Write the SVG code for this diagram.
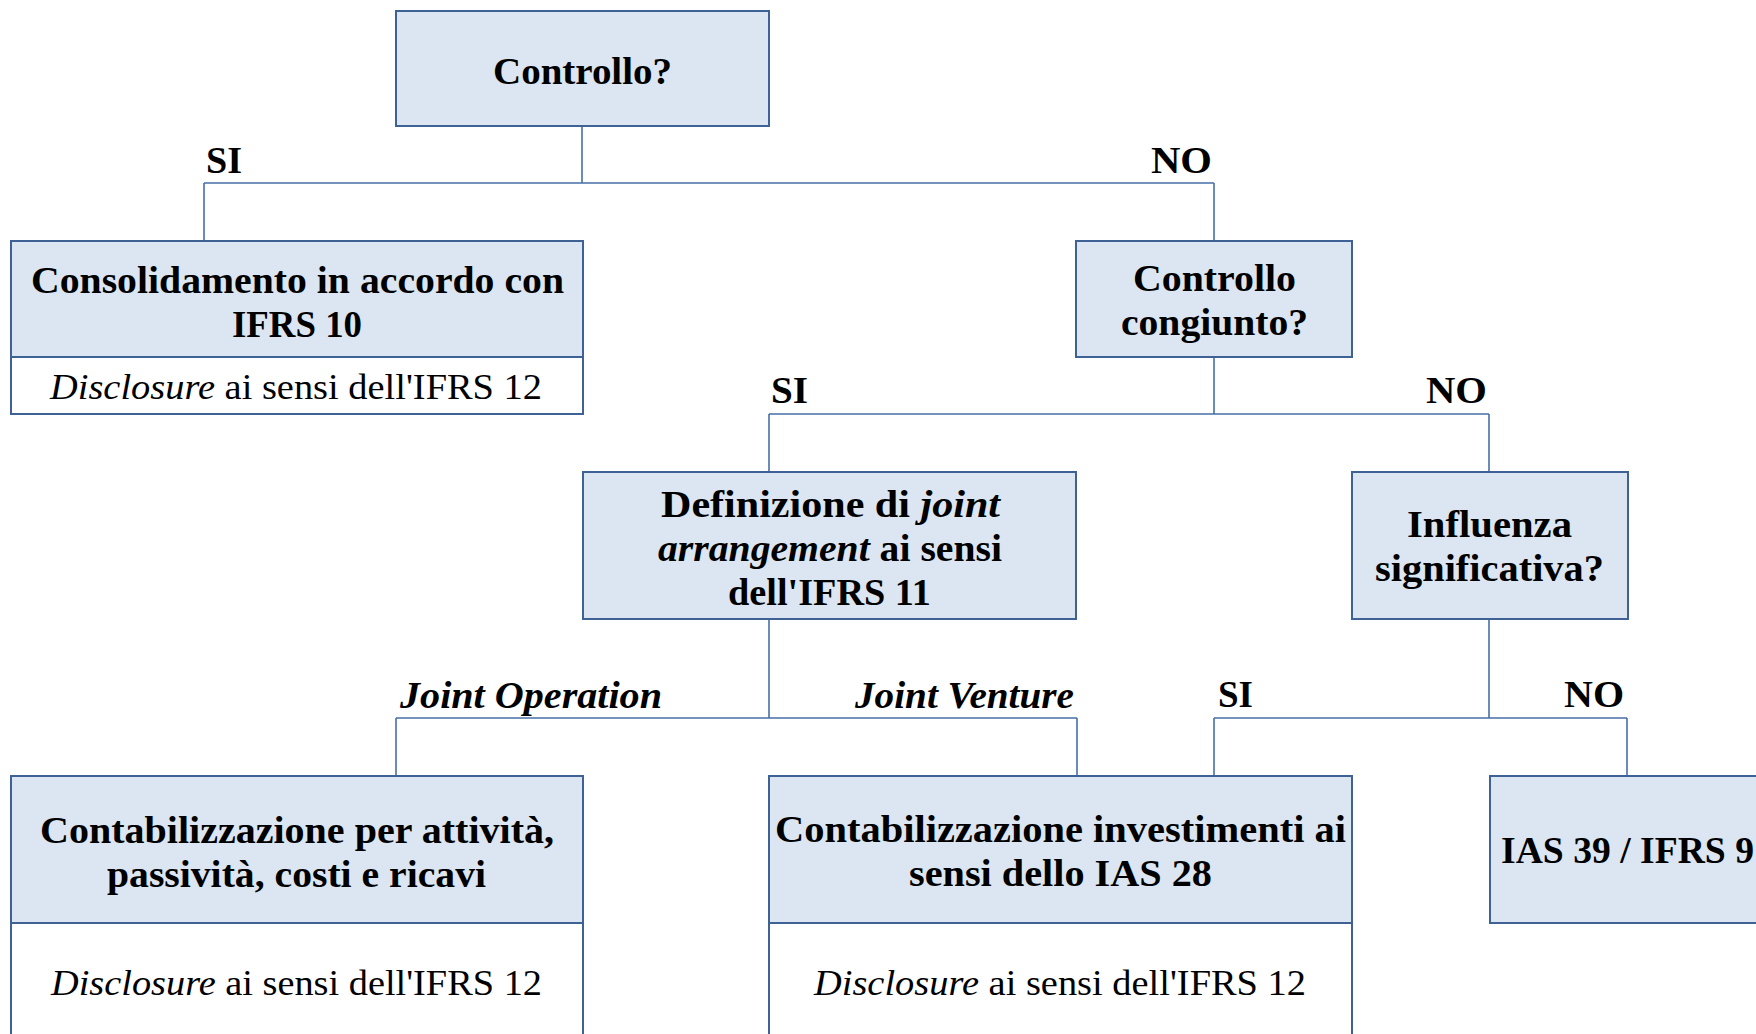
<svg xmlns="http://www.w3.org/2000/svg" width="1756" height="1034" viewBox="0 0 1756 1034">
<style>
.box{fill:#DCE6F2;stroke:#3F6296;stroke-width:2}
.wbox{fill:#FFFFFF;stroke:#3F6296;stroke-width:2}
.con{fill:none;stroke:#4670A8;stroke-width:1.6}
text{font-family:"Liberation Serif","Times New Roman",serif;fill:#000}
.b{font-weight:bold;font-size:37px}
.r{font-size:36px}
.i{font-style:italic}
</style>
<rect width="1756" height="1034" fill="#FFFFFF"/>
<g id="connectors">
<path class="con" d="M582,126 V183 M204,183 H1214 M204,183 V241 M1214,183 V241"/>
<path class="con" d="M1214,357 V414 M769,414 H1489 M769,414 V472 M1489,414 V472"/>
<path class="con" d="M769,619 V718 M396,718 H1077 M396,718 V776 M1077,718 V776"/>
<path class="con" d="M1489,619 V718 M1214,718 H1627 M1214,718 V776 M1627,718 V776"/>
</g>
<g id="labels">
<text class="b" x="206" y="173" textLength="36" lengthAdjust="spacingAndGlyphs">SI</text>
<text class="b" x="1151" y="173" textLength="61" lengthAdjust="spacingAndGlyphs">NO</text>
<text class="b" x="771" y="403" textLength="37" lengthAdjust="spacingAndGlyphs">SI</text>
<text class="b" x="1426" y="403" textLength="61" lengthAdjust="spacingAndGlyphs">NO</text>
<text class="b i" x="400" y="708" textLength="262" lengthAdjust="spacingAndGlyphs">Joint Operation</text>
<text class="b i" x="855" y="708" textLength="219" lengthAdjust="spacingAndGlyphs">Joint Venture</text>
<text class="b" x="1218" y="707" textLength="35" lengthAdjust="spacingAndGlyphs">SI</text>
<text class="b" x="1564" y="707" textLength="60" lengthAdjust="spacingAndGlyphs">NO</text>
</g>
<g id="n-controllo">
<rect class="box" x="396" y="11" width="373" height="115"/>
<text class="b" x="493" y="84" textLength="179" lengthAdjust="spacingAndGlyphs">Controllo?</text>
</g>
<g id="n-consolidamento">
<rect class="box" x="11" y="241" width="572" height="116"/>
<rect class="wbox" x="11" y="357" width="572" height="57"/>
<text class="b" x="31" y="293" textLength="533" lengthAdjust="spacingAndGlyphs">Consolidamento in accordo con</text>
<text class="b" x="232" y="337" textLength="130" lengthAdjust="spacingAndGlyphs">IFRS 10</text>
<text class="r" x="50" y="399" textLength="492" lengthAdjust="spacingAndGlyphs"><tspan class="i">Disclosure</tspan> ai sensi dell'IFRS 12</text>
</g>
<g id="n-congiunto">
<rect class="box" x="1076" y="241" width="276" height="116"/>
<text class="b" x="1133" y="291" textLength="163" lengthAdjust="spacingAndGlyphs">Controllo</text>
<text class="b" x="1121" y="335" textLength="187" lengthAdjust="spacingAndGlyphs">congiunto?</text>
</g>
<g id="n-definizione">
<rect class="box" x="583" y="472" width="493" height="147"/>
<text class="b" x="661" y="517" textLength="339" lengthAdjust="spacingAndGlyphs">Definizione di <tspan class="i">joint</tspan></text>
<text class="b" x="658" y="561" textLength="344" lengthAdjust="spacingAndGlyphs"><tspan class="i">arrangement</tspan> ai sensi</text>
<text class="b" x="728" y="605" textLength="203" lengthAdjust="spacingAndGlyphs">dell'IFRS 11</text>
</g>
<g id="n-influenza">
<rect class="box" x="1352" y="472" width="276" height="147"/>
<text class="b" x="1407" y="537" textLength="165" lengthAdjust="spacingAndGlyphs">Influenza</text>
<text class="b" x="1375" y="581" textLength="229" lengthAdjust="spacingAndGlyphs">significativa?</text>
</g>
<g id="n-attivita">
<rect class="box" x="11" y="776" width="572" height="147"/>
<rect class="wbox" x="11" y="923" width="572" height="130"/>
<text class="b" x="40" y="843" textLength="514" lengthAdjust="spacingAndGlyphs">Contabilizzazione per attività,</text>
<text class="b" x="107" y="887" textLength="379" lengthAdjust="spacingAndGlyphs">passività, costi e ricavi</text>
<text class="r" x="51" y="995" textLength="491" lengthAdjust="spacingAndGlyphs"><tspan class="i">Disclosure</tspan> ai sensi dell'IFRS 12</text>
</g>
<g id="n-investimenti">
<rect class="box" x="769" y="776" width="583" height="147"/>
<rect class="wbox" x="769" y="923" width="583" height="130"/>
<text class="b" x="775" y="842" textLength="571" lengthAdjust="spacingAndGlyphs">Contabilizzazione investimenti ai</text>
<text class="b" x="909" y="886" textLength="303" lengthAdjust="spacingAndGlyphs">sensi dello IAS 28</text>
<text class="r" x="814" y="995" textLength="492" lengthAdjust="spacingAndGlyphs"><tspan class="i">Disclosure</tspan> ai sensi dell'IFRS 12</text>
</g>
<g id="n-ias39">
<rect class="box" x="1490" y="776" width="280" height="147"/>
<text class="b" x="1501" y="863" textLength="253" lengthAdjust="spacingAndGlyphs">IAS 39 / IFRS 9</text>
</g>
</svg>
